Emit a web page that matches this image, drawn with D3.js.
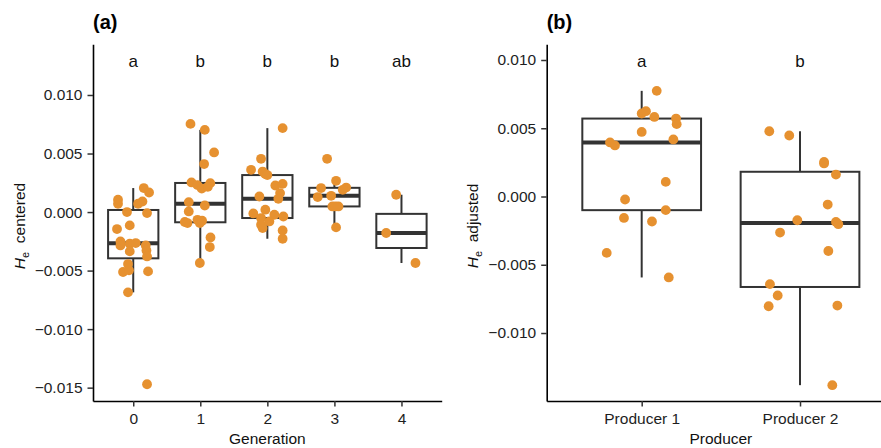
<!DOCTYPE html>
<html lang="en">
<head>
<meta charset="UTF-8">
<script src="https://d3js.org/d3.v7.min.js"></script>
<style>
  body { margin: 0; background: #fff; }
  text { font-family: "Liberation Sans", Arial, sans-serif; }
</style>
</head>
<body>
<svg id="chart" width="881" height="448"></svg>
<script>
// ---- data ----
const generations = ["0", "1", "2", "3", "4"];
const generationLetters = ["a", "b", "b", "b", "ab"];
// He centered per generation
const gen0 = [0.00105, 0.00071, 0.00205, 0.00167, 0.00071, 0.00090, 0.0, -0.00009, -0.00145, -0.00114,
  -0.00251, -0.00285, -0.00270, -0.00265, -0.00336, -0.00285, -0.00328, -0.00379, -0.00444, -0.00512,
  -0.00498, -0.00507, -0.00686, -0.01471];
const gen1 = [0.00753, 0.00702, 0.00509, 0.00410, 0.00253, 0.00230, 0.00200, 0.00247, 0.00215, 0.00085,
  0.00056, 0.00005, -0.00085, -0.00094, -0.00066, -0.00094, -0.00074, -0.00217, -0.00299, -0.00435];
const gen2 = [0.00717, 0.00455, 0.00361, 0.00346, 0.00324, 0.00316, 0.00227, 0.00241, 0.00162, 0.00133,
  0.00113, 0.00020, -0.00012, -0.00023, -0.00038, -0.00051, -0.00080, -0.00137, -0.00108, -0.00157, -0.00228];
const gen3 = [0.00455, 0.00267, 0.00209, 0.00190, 0.00205, 0.00128, 0.00139, 0.00048, 0.00048, 0.00048, -0.00131];
const gen4 = [0.00148, -0.00179, -0.00435];
// horizontal jitter (fraction of category step)
const jit0 = [-0.227, -0.227, 0.157, 0.236, 0.072, 0.137, -0.093, 0.206, -0.242, -0.052,
  -0.191, -0.191, -0.052, 0.037, -0.052, 0.187, 0.197, 0.206, -0.078, -0.152,
  -0.063, 0.221, -0.078, 0.206];
const jit1 = [-0.146, 0.067, 0.206, 0.057, -0.131, -0.042, 0.022, 0.149, 0.112, -0.172,
  0.067, -0.172, -0.231, -0.191, -0.042, -0.007, 0.027, 0.152, 0.142, -0.007];
const jit2 = [0.228, -0.094, -0.243, -0.070, -0.030, 0.0, 0.119, 0.228, 0.190, -0.119,
  0.164, -0.030, -0.209, 0.104, 0.239, -0.094, 0.030, -0.070, -0.094, 0.228, 0.228];
const jit3 = [-0.109, 0.025, 0.175, 0.124, -0.199, -0.249, -0.049, -0.03, 0.015, 0.06, 0.025];
const jit4 = [-0.079, -0.228, 0.209];

const producers = ["Producer 1", "Producer 2"];
const producerLetters = ["a", "b"];
const prod1 = [0.00774, 0.00608, 0.00625, 0.00583, 0.00473, 0.00396, 0.00374, 0.00571, 0.00530, 0.00418,
  0.00107, -0.00022, -0.00100, -0.00157, -0.00183, -0.00413, -0.00593];
const prod2 = [0.00478, 0.00447, 0.00253, 0.00242, 0.00161, -0.00059, -0.00174, -0.00186, -0.00203, -0.00264,
  -0.00399, -0.00642, -0.00725, -0.00804, -0.00799, -0.01382];
const jitP1 = [0.095, 0.0, 0.027, 0.080, 0.0, -0.200, -0.169, 0.217, 0.221, 0.200,
  0.152, -0.105, 0.152, -0.112, 0.065, -0.221, 0.171];
const jitP2 = [-0.194, -0.068, 0.152, 0.152, 0.227, 0.175, -0.017, 0.227, 0.242, -0.126,
  0.179, -0.190, -0.141, -0.198, 0.236, 0.204];

const ticksA = [0.010, 0.005, 0.000, -0.005, -0.010, -0.015];
const ticksB = [0.010, 0.005, 0.000, -0.005, -0.010];

// ---- drawing ----
const svg = d3.select("#chart");
const ink = "#333333";
const dotColor = "#E69130";
const fmt = d3.format(".3f");
const plotBottom = 401, plotTop = 44.3;

function boxStats(vals) {
  const s = vals.slice().sort(d3.ascending);
  const q1 = d3.quantile(s, 0.25), med = d3.quantile(s, 0.5), q3 = d3.quantile(s, 0.75);
  const iqr = q3 - q1;
  const lo = d3.min(s.filter(v => v >= q1 - 1.5 * iqr));
  const hi = d3.max(s.filter(v => v <= q3 + 1.5 * iqr));
  return { q1, med, q3, lo, hi };
}

function panel(opt) {
  const g = svg.append("g");
  const x = d3.scalePoint().domain(opt.cats).range([opt.left, opt.right]).padding(0.6);
  const y = d3.scaleLinear().domain(opt.yDomain).range([plotBottom, plotTop]);
  const step = x.step();
  const bw = step * 0.75;

  opt.cats.forEach((c, i) => {
    const st = boxStats(opt.values[i]);
    const cx = x(c);
    const bg = g.append("g");
    bg.append("line").attr("x1", cx).attr("x2", cx).attr("y1", y(st.q3)).attr("y2", y(st.hi))
      .attr("stroke", ink).attr("stroke-width", 2);
    bg.append("line").attr("x1", cx).attr("x2", cx).attr("y1", y(st.q1)).attr("y2", y(st.lo))
      .attr("stroke", ink).attr("stroke-width", 2);
    bg.append("rect").attr("x", cx - bw / 2).attr("width", bw)
      .attr("y", y(st.q3)).attr("height", y(st.q1) - y(st.q3))
      .attr("fill", "#fff").attr("stroke", ink).attr("stroke-width", 2);
    bg.append("line").attr("x1", cx - bw / 2).attr("x2", cx + bw / 2)
      .attr("y1", y(st.med)).attr("y2", y(st.med))
      .attr("stroke", ink).attr("stroke-width", 4);
  });

  opt.cats.forEach((c, i) => {
    g.selectAll(null)
      .data(opt.values[i].map((v, j) => ({ v, j: opt.jitter[i][j] })))
      .enter().append("circle")
      .attr("cx", d => x(c) + d.j * step)
      .attr("cy", d => y(d.v))
      .attr("r", 4.9)
      .attr("fill", dotColor);
  });

  // letters
  g.selectAll(null).data(opt.cats).enter().append("text")
    .attr("x", d => x(d)).attr("y", 66.5)
    .attr("text-anchor", "middle")
    .style("font-size", "17px").attr("fill", "#111")
    .text((d, i) => opt.letters[i]);

  const ya = g.append("g").attr("transform", `translate(${opt.left},0)`)
    .call(d3.axisLeft(y).tickValues(opt.ticks).tickFormat(fmt).tickSize(5.5).tickPadding(5).tickSizeOuter(0));
  const xa = g.append("g").attr("transform", `translate(0,${plotBottom})`)
    .call(d3.axisBottom(x).tickSize(5.5).tickPadding(6).tickSizeOuter(0));
  [ya, xa].forEach(a => {
    a.select(".domain").attr("stroke", "#000").attr("stroke-width", 1.6);
    a.selectAll(".tick line").attr("stroke", ink).attr("stroke-width", 1.5);
    a.selectAll(".tick text").attr("fill", "#1e1e1e")
      .style("font-size", "15.5px").style("font-family", "'Liberation Sans', Arial, sans-serif");
  });

  g.append("text").attr("x", (opt.left + opt.right) / 2).attr("y", 444)
    .attr("text-anchor", "middle").style("font-size", "15.5px").attr("fill", "#111")
    .text(opt.xTitle);

  const yt = g.append("text")
    .attr("transform", `translate(${opt.yTitleX},226) rotate(-90)`)
    .attr("text-anchor", "middle").style("font-size", "15.5px").attr("fill", "#111");
  yt.append("tspan").style("font-style", "italic").text("H");
  yt.append("tspan").attr("dy", 4).style("font-size", "11px").text("e");
  yt.append("tspan").attr("dy", -4).text("\u00a0\u00a0" + opt.yWord);

  g.append("text").attr("x", opt.left).attr("y", 29)
    .style("font-size", "20px").style("font-weight", "bold").attr("fill", "#000")
    .text(opt.tag);
}

panel({
  cats: generations, letters: generationLetters,
  values: [gen0, gen1, gen2, gen3, gen4],
  jitter: [jit0, jit1, jit2, jit3, jit4],
  left: 93, right: 441.7, yDomain: [-0.01614, 0.01433], ticks: ticksA,
  xTitle: "Generation", yWord: "centered", yTitleX: 25, tag: "(a)"
});

panel({
  cats: producers, letters: producerLetters,
  values: [prod1, prod2],
  jitter: [jitP1, jitP2],
  left: 546.7, right: 895, yDomain: [-0.01498, 0.01115], ticks: ticksB,
  xTitle: "Producer", yWord: "adjusted", yTitleX: 477.7, tag: "(b)"
});
</script>
</body>
</html>
